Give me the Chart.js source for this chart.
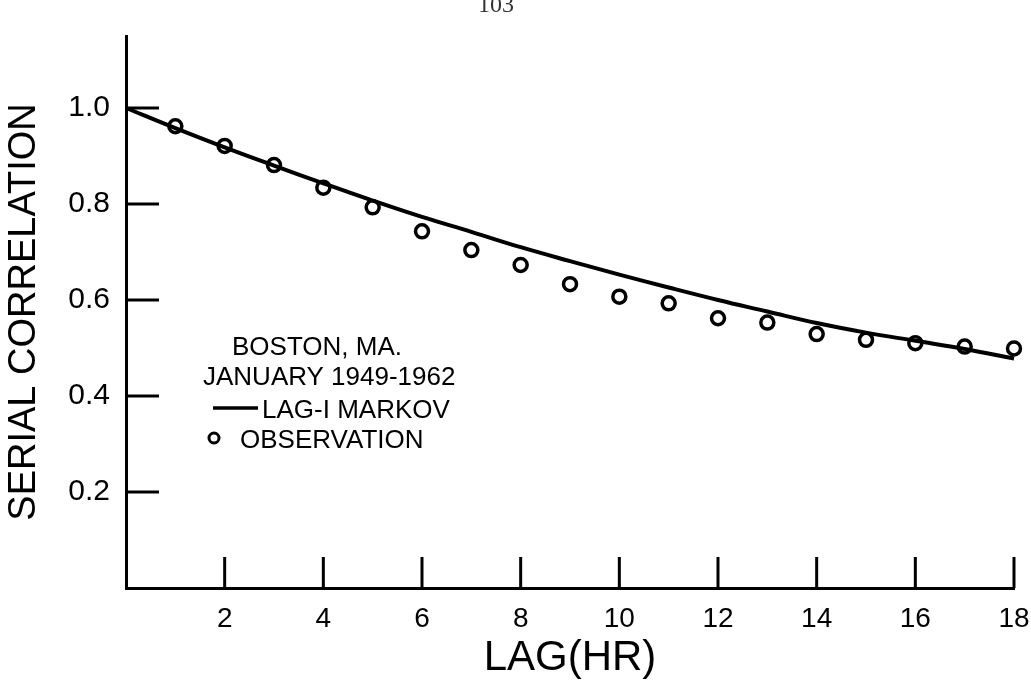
<!DOCTYPE html>
<html>
<head>
<meta charset="utf-8">
<script src="https://cdn.jsdelivr.net/npm/chart.js@4"></script>
<style>
    html, body { margin: 0; padding: 0; background: #fff; }
    #wrap { width: 1031px; height: 684px; }
</style>
</head>
<body>
<div id="wrap"><canvas id="lagChart" width="1031" height="684"></canvas></div>
<script>
// values
const markovLags = [0, 1, 2, 3, 4, 5, 6, 7, 8, 9, 10, 11, 12, 13, 14, 15, 16, 17, 18];
const markovValues = [1.0, 0.958, 0.918, 0.88, 0.843, 0.807, 0.773, 0.742, 0.71, 0.681, 0.653, 0.626, 0.6, 0.576, 0.552, 0.532, 0.515, 0.498, 0.478];
const obsLags = [1, 2, 3, 4, 5, 6, 7, 8, 9, 10, 11, 12, 13, 14, 15, 16, 17, 18];
const obsValues = [0.962, 0.921, 0.881, 0.834, 0.793, 0.743, 0.704, 0.673, 0.633, 0.607, 0.593, 0.562, 0.553, 0.529, 0.517, 0.51, 0.503, 0.499];
const xTickValues = [2, 4, 6, 8, 10, 12, 14, 16, 18];
const yTickValues = [0.2, 0.4, 0.6, 0.8, 1.0];
const yTickLabels = ['0.2', '0.4', '0.6', '0.8', '1.0'];
const legendLines = ['BOSTON, MA.', 'JANUARY 1949-1962', 'LAG-I MARKOV', 'OBSERVATION'];
const pageNumber = '103';

const INK = '#000';
const FONT = '"Liberation Sans", Arial, sans-serif';

// tick marks point inward, drawn from the scales
const inwardTicks = {
    id: 'inwardTicks',
    afterDraw(chart) {
        const { ctx, chartArea, scales } = chart;
        ctx.save();
        ctx.strokeStyle = INK;
        ctx.lineWidth = 3;
        xTickValues.forEach((v) => {
            const px = scales.x.getPixelForValue(v);
            ctx.beginPath();
            ctx.moveTo(px, chartArea.bottom);
            ctx.lineTo(px, chartArea.bottom - 31);
            ctx.stroke();
        });
        yTickValues.forEach((v) => {
            const py = scales.y.getPixelForValue(v);
            ctx.beginPath();
            ctx.moveTo(chartArea.left, py);
            ctx.lineTo(chartArea.left + 33, py);
            ctx.stroke();
        });
        ctx.restore();
    },
};

// hand-lettered key inside the plot
const keyText = {
    id: 'keyText',
    afterDraw(chart) {
        const { ctx } = chart;
        ctx.save();
        ctx.fillStyle = INK;
        ctx.strokeStyle = INK;
        ctx.font = '26px ' + FONT;
        ctx.textBaseline = 'alphabetic';
        ctx.textAlign = 'left';
        ctx.fillText(legendLines[0], 232, 355);
        ctx.fillText(legendLines[1], 203, 385);
        ctx.lineWidth = 3.5;
        ctx.beginPath();
        ctx.moveTo(213, 408);
        ctx.lineTo(258, 408);
        ctx.stroke();
        ctx.fillText(legendLines[2], 262, 418);
        ctx.lineWidth = 3;
        ctx.beginPath();
        ctx.arc(214, 438, 5, 0, Math.PI * 2);
        ctx.stroke();
        ctx.fillText(legendLines[3], 240, 448);

        ctx.font = '24px "Liberation Serif", serif';
        ctx.textAlign = 'center';
        ctx.fillStyle = '#333';
        ctx.fillText(pageNumber, 496, 12);
        ctx.restore();
    },
};

const ctx = document.getElementById('lagChart');

new Chart(ctx, {
    type: 'line',
    data: {
        datasets: [
            {
                label: 'LAG-I MARKOV',
                data: markovLags.map((x, i) => ({ x, y: markovValues[i] })),
                borderColor: INK,
                borderWidth: 4,
                pointRadius: 0,
                tension: 0.4,
                fill: false,
                clip: false,
            },
            {
                label: 'OBSERVATION',
                data: obsLags.map((x, i) => ({ x, y: obsValues[i] })),
                showLine: false,
                borderColor: INK,
                backgroundColor: '#fff',
                pointRadius: 6.5,
                pointBorderWidth: 3.5,
                pointStyle: 'circle',
                clip: false,
            },
        ],
    },
    options: {
        responsive: false,
        animation: false,
        layout: {
            padding: { top: 36, right: 17, left: 0, bottom: 0 },
        },
        plugins: {
            legend: { display: false },
            tooltip: { enabled: false },
        },
        scales: {
            x: {
                type: 'linear',
                min: 0,
                max: 18,
                grid: { display: false, drawTicks: false },
                border: { display: true, color: INK, width: 3 },
                afterBuildTicks: (scale) => {
                    scale.ticks = xTickValues.map((v) => ({ value: v }));
                },
                afterFit: (scale) => {
                    scale.height = 96;
                    scale.paddingLeft = 0;
                    scale.paddingRight = 0;
                },
                ticks: {
                    color: INK,
                    font: { family: FONT, size: 28 },
                    padding: 14,
                    maxRotation: 0,
                    autoSkip: false,
                },
                title: {
                    display: true,
                    text: 'LAG(HR)',
                    color: INK,
                    font: { family: FONT, size: 42 },
                    padding: { top: 0, bottom: 0 },
                },
            },
            y: {
                type: 'linear',
                min: 0,
                max: 1.15,
                grid: { display: false, drawTicks: false },
                border: { display: true, color: INK, width: 3 },
                afterBuildTicks: (scale) => {
                    scale.ticks = yTickValues.map((v) => ({ value: v }));
                },
                afterFit: (scale) => {
                    scale.width = 126;
                    scale.paddingTop = 0;
                    scale.paddingBottom = 0;
                },
                ticks: {
                    color: INK,
                    font: { family: FONT, size: 30 },
                    padding: 16,
                    callback: (value) => {
                        const i = yTickValues.findIndex((v) => Math.abs(v - value) < 1e-6);
                        return i >= 0 ? yTickLabels[i] : '';
                    },
                },
                title: {
                    display: true,
                    text: 'SERIAL CORRELATION',
                    color: INK,
                    font: { family: FONT, size: 38 },
                    padding: { top: 2, bottom: 0 },
                },
            },
        },
    },
    plugins: [inwardTicks, keyText],
});
</script>
</body>
</html>
